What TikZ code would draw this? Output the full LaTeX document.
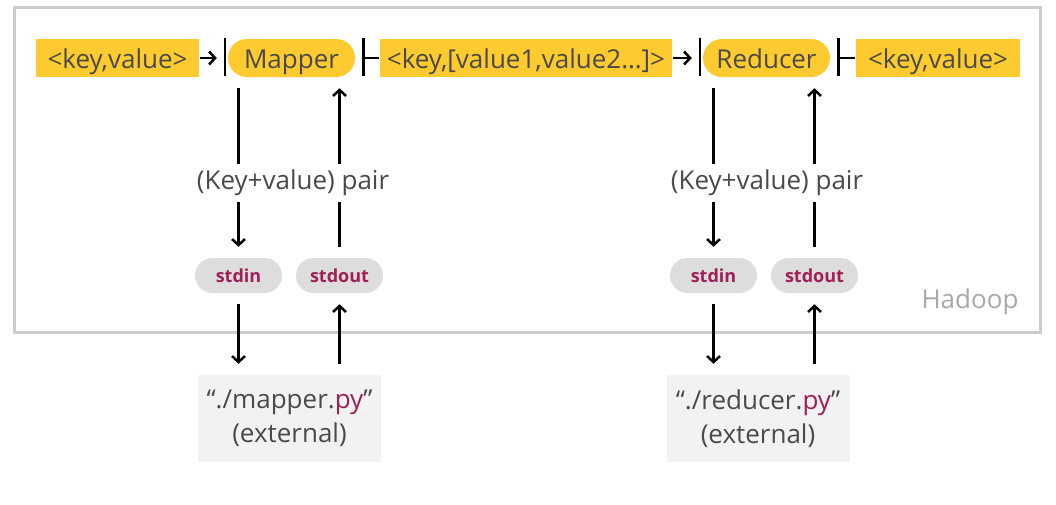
\documentclass[tikz,border=0pt]{standalone}
\usepackage{fontspec}
\setmainfont{Open Sans}
\usetikzlibrary{arrows.meta}
\definecolor{hyellow}{HTML}{FDCA2F}
\definecolor{htext}{HTML}{4A4A4A}
\definecolor{hpipe}{HTML}{A01F57}
\definecolor{hpill}{HTML}{DDDDDD}
\definecolor{hext}{HTML}{F2F2F2}
\definecolor{hframe}{HTML}{CCCCCC}
\definecolor{hlabel}{HTML}{A8A8A8}

\begin{document}
\begin{tikzpicture}[x=1pt,y=-1pt,line width=2.5pt,inner sep=0pt,
	font=\fontsize{26}{34}\selectfont,text=htext,
	kv/.style={fill=hyellow,minimum height=38pt,text height=23pt,text depth=3pt},
	job/.style={fill=hyellow,rounded corners=19pt,minimum width=127pt,minimum height=38pt,text height=23pt,text depth=3pt},
	pipe/.style={fill=hpill,rounded corners=17.5pt,minimum width=87pt,minimum height=35pt,
		text=hpipe,font=\fontsize{18}{20}\selectfont\bfseries,text height=15pt,text depth=1pt},
	ext/.style={fill=hext,minimum width=183pt,minimum height=87pt,align=center},
	pair/.style={fill=white,inner xsep=2pt,inner ysep=6pt},
	tip/.style={-{Straight Barb[length=6pt,width=13pt]}},
	flow/.style={tip,shorten <=10pt,shorten >=10pt}]
	\useasboundingbox (0,0) rectangle (1056,504);
	% hadoop frame
	\node (hadoop) at (527,169.5) [draw=hframe,line width=3pt,minimum width=1026pt,minimum height=325pt] {};
	\node (hadooplabel) at (970,302) [text=hlabel] {Hadoop};
	% top row
	\node (kvin) at (117.5,58) [kv,minimum width=163pt] {<key,value>};
	\node (mapper) at (291.5,58) [job] {Mapper};
	\node (kvlist) at (526,58) [kv,minimum width=292pt] {<key,[value1,value2…]>};
	\node (reducer) at (766.5,58) [job] {Reducer};
	\node (kvout) at (938,58) [kv,minimum width=164pt] {<key,value>};
	\draw [tip, shorten >=10pt] (kvin) -- (mapper);
	\draw [shorten >=7pt] (kvlist) -- (mapper);
	\draw [tip, shorten >=10pt] (kvlist) -- (reducer);
	\draw [shorten >=7pt] (kvout) -- (reducer);
	% bars at the job ends
	\draw (mapper.north west) ++(-2,0) -- ++(0,38);
	\draw (mapper.north east) ++(7,0) -- ++(0,38);
	\draw (reducer.north west) ++(-2,0) -- ++(0,38);
	\draw (reducer.north east) ++(7,0) -- ++(0,38);
	% streams
	\node (inM) at (238.5,275.5) [pipe] {stdin};
	\node (outM) at (339.5,275.5) [pipe] {stdout};
	\node (inR) at (713.5,275.5) [pipe] {stdin};
	\node (outR) at (814.5,275.5) [pipe] {stdout};
	\node (pyM) at (289.5,418.5) [ext] {“./mapper.\textcolor{hpipe}{py}”\\(external)};
	\node (pyR) at (758,418.5) [ext] {“./reducer.\textcolor{hpipe}{py}”\\(external)};
	\draw [flow] (inM.north |- mapper.south) -- (inM.north);
	\draw [flow] (outM.north) -- (outM.north |- mapper.south);
	\draw [flow] (inM.south) -- (inM.south |- pyM.north);
	\draw [flow] (outM.south |- pyM.north) -- (outM.south);
	\draw [flow] (inR.north |- reducer.south) -- (inR.north);
	\draw [flow] (outR.north) -- (outR.north |- reducer.south);
	\draw [flow] (inR.south) -- (inR.south |- pyR.north);
	\draw [flow] (outR.south |- pyR.north) -- (outR.south);
	\node (pairM) at (293,183) [pair] {(Key+value) pair};
	\node (pairR) at (767,183) [pair] {(Key+value) pair};
\end{tikzpicture}
\end{document}
